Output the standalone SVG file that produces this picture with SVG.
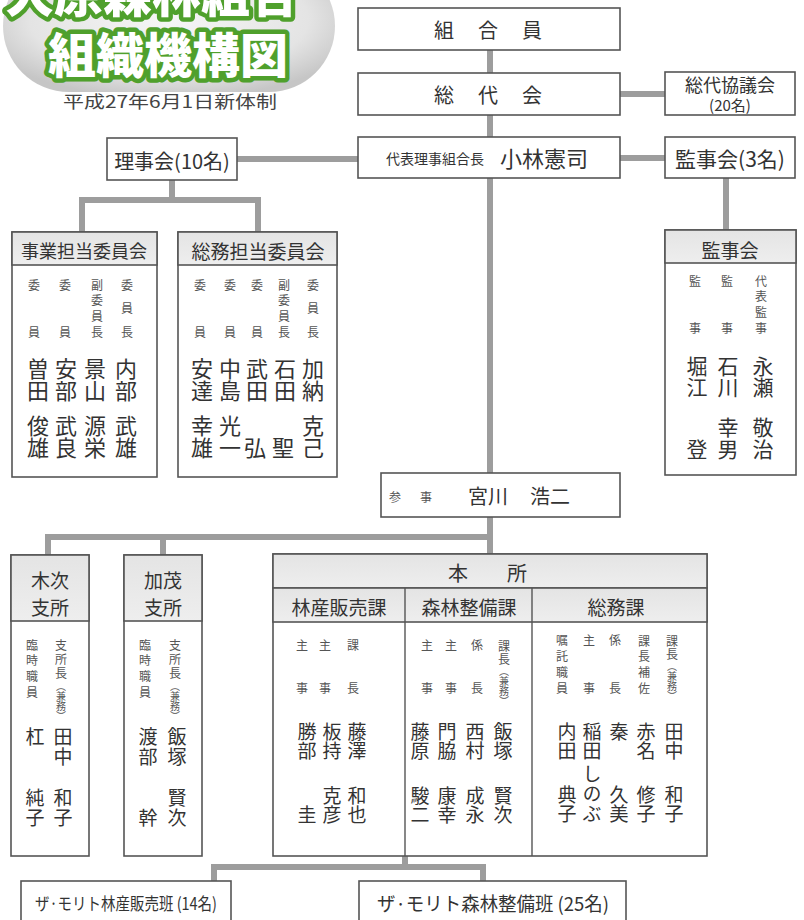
<svg xmlns="http://www.w3.org/2000/svg" width="804" height="920" viewBox="0 0 804 920">
<defs>
<radialGradient id="blob" cx="50%" cy="45%" r="60%">
<stop offset="0" stop-color="#f6f6f6"/>
<stop offset="0.7" stop-color="#e4e4e4"/>
<stop offset="1" stop-color="#c6c6c6"/>
</radialGradient>
<linearGradient id="hg" x1="0" y1="0" x2="0" y2="1">
<stop offset="0" stop-color="#e4e4e4"/>
<stop offset="1" stop-color="#eeeeee"/>
</linearGradient>
</defs>
<style>
text{font-family:"Noto Sans CJK JP","Noto Sans",sans-serif;fill:#333;text-anchor:middle;dominant-baseline:central}
.box{fill:#fff;stroke:#555;stroke-width:1.6}
.hdr{fill:url(#hg);stroke:#555;stroke-width:1.6}
.ln{stroke:#555;stroke-width:1.4;fill:none}
.con line{stroke:#9d9d9d;stroke-width:6;fill:none}
.big{font-size:20px}
.lbl{font-size:18px}
.v{writing-mode:vertical-rl;text-anchor:start}
.t{font-size:12px;fill:#555}
.s{font-size:10px;letter-spacing:0}
.n{font-size:22px;fill:#333}
.m{font-size:19px;fill:#333}
.ttl{font-size:48px;font-weight:900;fill:#fff;stroke:#4fa02c;stroke-width:9;stroke-linejoin:round;paint-order:stroke;dominant-baseline:auto}
</style>

<g id="title">
<rect x="3" y="-40" width="332" height="132" rx="66" fill="url(#blob)"/>
<text class="ttl" x="152" y="12" style="font-size:49px">大原森林組合</text>
<text class="ttl" x="168" y="73">組織機構図</text>
<text x="170" y="100" style="font-size:17px;fill:#444" textLength="214" lengthAdjust="spacingAndGlyphs">平成27年6月1日新体制</text>
</g>

<g id="connectors" class="con">
<line x1="490" y1="50" x2="490" y2="556"/>
<line x1="620" y1="94" x2="665" y2="94"/>
<line x1="620" y1="158" x2="665" y2="158"/>
<line x1="237" y1="159" x2="358" y2="159"/>
<line x1="172" y1="180" x2="172" y2="200"/>
<line x1="79" y1="200" x2="261" y2="200"/>
<line x1="82" y1="197" x2="82" y2="233"/>
<line x1="258" y1="197" x2="258" y2="233"/>
<line x1="726" y1="178" x2="726" y2="231"/>
<line x1="45" y1="537" x2="493" y2="537"/>
<line x1="48" y1="534" x2="48" y2="556"/>
<line x1="163" y1="534" x2="163" y2="556"/>
<line x1="405" y1="855" x2="405" y2="867"/>
<line x1="211" y1="867" x2="486" y2="867"/>
<line x1="214" y1="864" x2="214" y2="882"/>
<line x1="483" y1="864" x2="483" y2="882"/>
</g>

<g id="kumiaiin">
<rect class="box" x="358" y="8" width="262" height="42"/>
<text class="big"><tspan x="444" y="29">組</tspan><tspan x="488" y="29">合</tspan><tspan x="532" y="29">員</tspan></text>
</g>

<g id="soudaikai">
<rect class="box" x="358" y="73" width="262" height="42"/>
<text class="big"><tspan x="444" y="94">総</tspan><tspan x="488" y="94">代</tspan><tspan x="532" y="94">会</tspan></text>
</g>

<g id="soudaikyougikai">
<rect class="box" x="665" y="72" width="130" height="43"/>
<text x="730" y="84" style="font-size:18px">総代協議会</text>
<text x="730" y="104" style="font-size:15px">(20名)</text>
</g>

<g id="daihyou">
<rect class="box" x="358" y="137" width="262" height="41"/>
<text x="435" y="158" style="font-size:14px">代表理事組合長</text>
<text x="544" y="157" style="font-size:22px">小林憲司</text>
</g>

<g id="kanjikai3">
<rect class="box" x="665" y="137" width="130" height="41"/>
<text x="730" y="158" style="font-size:21px">監事会(3名)</text>
</g>

<g id="rijikai">
<rect class="box" x="107" y="138" width="130" height="42"/>
<text x="172" y="160" style="font-size:20px">理事会(10名)</text>
</g>

<g id="jigyou">
<rect class="box" x="12" y="232" width="145" height="245"/>
<rect class="hdr" x="12" y="232" width="145" height="33"/>
<text class="lbl" x="84" y="250">事業担当委員会</text>
<text class="v t" x="34" y="279" style="letter-spacing:35px">委員</text>
<text class="v t" x="65" y="279" style="letter-spacing:35px">委員</text>
<text class="v t" x="97" y="279" style="letter-spacing:3.7px">副委員長</text>
<text class="v t" x="127" y="279" style="letter-spacing:11.5px">委員長</text>
<text class="v n" x="38" y="358">曽田</text><text class="v n" x="38" y="415">俊雄</text>
<text class="v n" x="66" y="358">安部</text><text class="v n" x="66" y="415">武良</text>
<text class="v n" x="95" y="358">景山</text><text class="v n" x="95" y="415">源栄</text>
<text class="v n" x="126" y="358">内部</text><text class="v n" x="126" y="415">武雄</text>
</g>

<g id="soumu-iinkai">
<rect class="box" x="178" y="232" width="159" height="245"/>
<rect class="hdr" x="178" y="232" width="159" height="33"/>
<text x="258" y="250" style="font-size:19px">総務担当委員会</text>
<text class="v t" x="200" y="279" style="letter-spacing:35px">委員</text>
<text class="v t" x="230" y="279" style="letter-spacing:35px">委員</text>
<text class="v t" x="257" y="279" style="letter-spacing:35px">委員</text>
<text class="v t" x="284" y="279" style="letter-spacing:3.7px">副委員長</text>
<text class="v t" x="313" y="279" style="letter-spacing:11.5px">委員長</text>
<text class="v n" x="202" y="358">安達</text><text class="v n" x="202" y="415">幸雄</text>
<text class="v n" x="230" y="358">中島</text><text class="v n" x="230" y="415">光一</text>
<text class="v n" x="257" y="358">武田</text><text class="v n" x="255" y="437">弘</text>
<text class="v n" x="285" y="358">石田</text><text class="v n" x="283" y="437">聖</text>
<text class="v n" x="313" y="358">加納</text><text class="v n" x="313" y="415">克己</text>
</g>

<g id="kanjikai">
<rect class="box" x="665" y="230" width="131" height="245"/>
<rect class="hdr" x="665" y="230" width="131" height="33"/>
<text x="730" y="249" style="font-size:19px">監事会</text>
<text class="v t" x="695" y="275" style="letter-spacing:35px">監事</text>
<text class="v t" x="727" y="275" style="letter-spacing:35px">監事</text>
<text class="v t" x="761" y="275" style="letter-spacing:3.7px">代表監事</text>
<text class="v n" x="697" y="356" style="font-size:21px">堀江</text><text class="v n" x="697" y="439" style="font-size:21px">登</text>
<text class="v n" x="728" y="356" style="font-size:21px">石川</text><text class="v n" x="728" y="417" style="font-size:21px;letter-spacing:1px">幸男</text>
<text class="v n" x="763" y="356" style="font-size:21px">永瀬</text><text class="v n" x="763" y="417" style="font-size:21px;letter-spacing:1px">敬治</text>
</g>

<g id="sanji">
<rect class="box" x="381" y="473" width="239" height="44"/>
<text x="395" y="496" style="font-size:12px;fill:#555">参</text>
<text x="426" y="496" style="font-size:12px;fill:#555">事</text>
<text x="488" y="495" style="font-size:20px">宮川</text>
<text x="550" y="495" style="font-size:20px">浩二</text>
</g>

<g id="kisuki">
<rect class="box" x="11" y="555" width="78" height="301"/>
<rect class="hdr" x="11" y="555" width="78" height="66"/>
<text x="50" y="579" style="font-size:19px">木次</text>
<text x="50" y="606" style="font-size:19px">支所</text>
<text class="v t" x="32" y="639" style="letter-spacing:3.7px">臨時職員</text>
<text class="v t" x="61" y="639" style="letter-spacing:2px">支所長<tspan class="s">（兼務）</tspan></text>
<text class="v m" x="35" y="727">杠</text><text class="v m" x="35" y="788" style="letter-spacing:1px">純子</text>
<text class="v m" x="63" y="727" style="letter-spacing:1px">田中</text><text class="v m" x="63" y="788" style="letter-spacing:1px">和子</text>
</g>

<g id="kamo">
<rect class="box" x="124" y="555" width="78" height="301"/>
<rect class="hdr" x="124" y="555" width="78" height="66"/>
<text x="163" y="579" style="font-size:19px">加茂</text>
<text x="163" y="606" style="font-size:19px">支所</text>
<text class="v t" x="145" y="639" style="letter-spacing:3.7px">臨時職員</text>
<text class="v t" x="175" y="639" style="letter-spacing:2px">支所長<tspan class="s">（兼務）</tspan></text>
<text class="v m" x="148" y="727" style="letter-spacing:1px">渡部</text><text class="v m" x="148" y="808">幹</text>
<text class="v m" x="177" y="727" style="letter-spacing:1px">飯塚</text><text class="v m" x="177" y="788" style="letter-spacing:1px">賢次</text>
</g>

<g id="honsho">
<rect class="box" x="273" y="554" width="434" height="302"/>
<rect class="hdr" x="273" y="554" width="434" height="34"/>
<rect class="hdr" x="273" y="588" width="434" height="34"/>
<line class="ln" x1="405" y1="588" x2="405" y2="856"/>
<line class="ln" x1="532" y1="588" x2="532" y2="856"/>
<text x="458" y="572" style="font-size:20px">本</text>
<text x="517" y="572" style="font-size:20px">所</text>
</g>

<g id="rinsan">
<text x="339" y="606" style="font-size:19px">林産販売課</text>
<text class="v t" x="302" y="639" style="letter-spacing:31px">主事</text>
<text class="v t" x="325" y="639" style="letter-spacing:31px">主事</text>
<text class="v t" x="353" y="639" style="letter-spacing:31px">課長</text>
<text class="v m" x="307" y="722">勝部</text><text class="v m" x="307" y="805">圭</text>
<text class="v m" x="332" y="722">板持</text><text class="v m" x="332" y="786">克彦</text>
<text class="v m" x="357" y="722">藤澤</text><text class="v m" x="357" y="786">和也</text>
</g>

<g id="shinrin">
<text x="469" y="606" style="font-size:19px">森林整備課</text>
<text class="v t" x="427" y="639" style="letter-spacing:31px">主事</text>
<text class="v t" x="451" y="639" style="letter-spacing:31px">主事</text>
<text class="v t" x="477" y="639" style="letter-spacing:31px">係長</text>
<text class="v t" x="504" y="640" style="letter-spacing:1px">課長<tspan class="s">（兼務）</tspan></text>
<text class="v m" x="420" y="722">藤原</text><text class="v m" x="420" y="786">駿二</text>
<text class="v m" x="447" y="722">門脇</text><text class="v m" x="447" y="786">康幸</text>
<text class="v m" x="475" y="722">西村</text><text class="v m" x="475" y="786">成永</text>
<text class="v m" x="503" y="722">飯塚</text><text class="v m" x="503" y="786">賢次</text>
</g>

<g id="soumuka">
<text x="616" y="606" style="font-size:19px">総務課</text>
<text class="v t" x="562" y="634" style="letter-spacing:4px">嘱託職員</text>
<text class="v t" x="589" y="634" style="letter-spacing:36px">主事</text>
<text class="v t" x="615" y="634" style="letter-spacing:36px">係長</text>
<text class="v t" x="644" y="635" style="letter-spacing:3.7px">課長補佐</text>
<text class="v t" x="672" y="635" style="letter-spacing:1px">課長<tspan class="s">（兼務）</tspan></text>
<text class="v m" x="567" y="722">内田</text><text class="v m" x="567" y="785">典子</text>
<text class="v m" x="592" y="722">稲田</text><text class="v m" x="592" y="764" style="letter-spacing:1px">しのぶ</text>
<text class="v m" x="619" y="722">秦</text><text class="v m" x="619" y="785">久美</text>
<text class="v m" x="646" y="722">赤名</text><text class="v m" x="646" y="785">修子</text>
<text class="v m" x="674" y="722">田中</text><text class="v m" x="674" y="785">和子</text>
</g>

<g id="han-rinsan">
<rect class="box" x="21" y="881" width="210" height="50"/>
<text x="126" y="902" style="font-size:17px" textLength="182" lengthAdjust="spacingAndGlyphs">ザ·モリト林産販売班 (14名)</text>
</g>

<g id="han-shinrin">
<rect class="box" x="359" y="881" width="267" height="50"/>
<text x="493" y="902" style="font-size:19px" textLength="232" lengthAdjust="spacingAndGlyphs">ザ·モリト森林整備班 (25名)</text>
</g>
</svg>
